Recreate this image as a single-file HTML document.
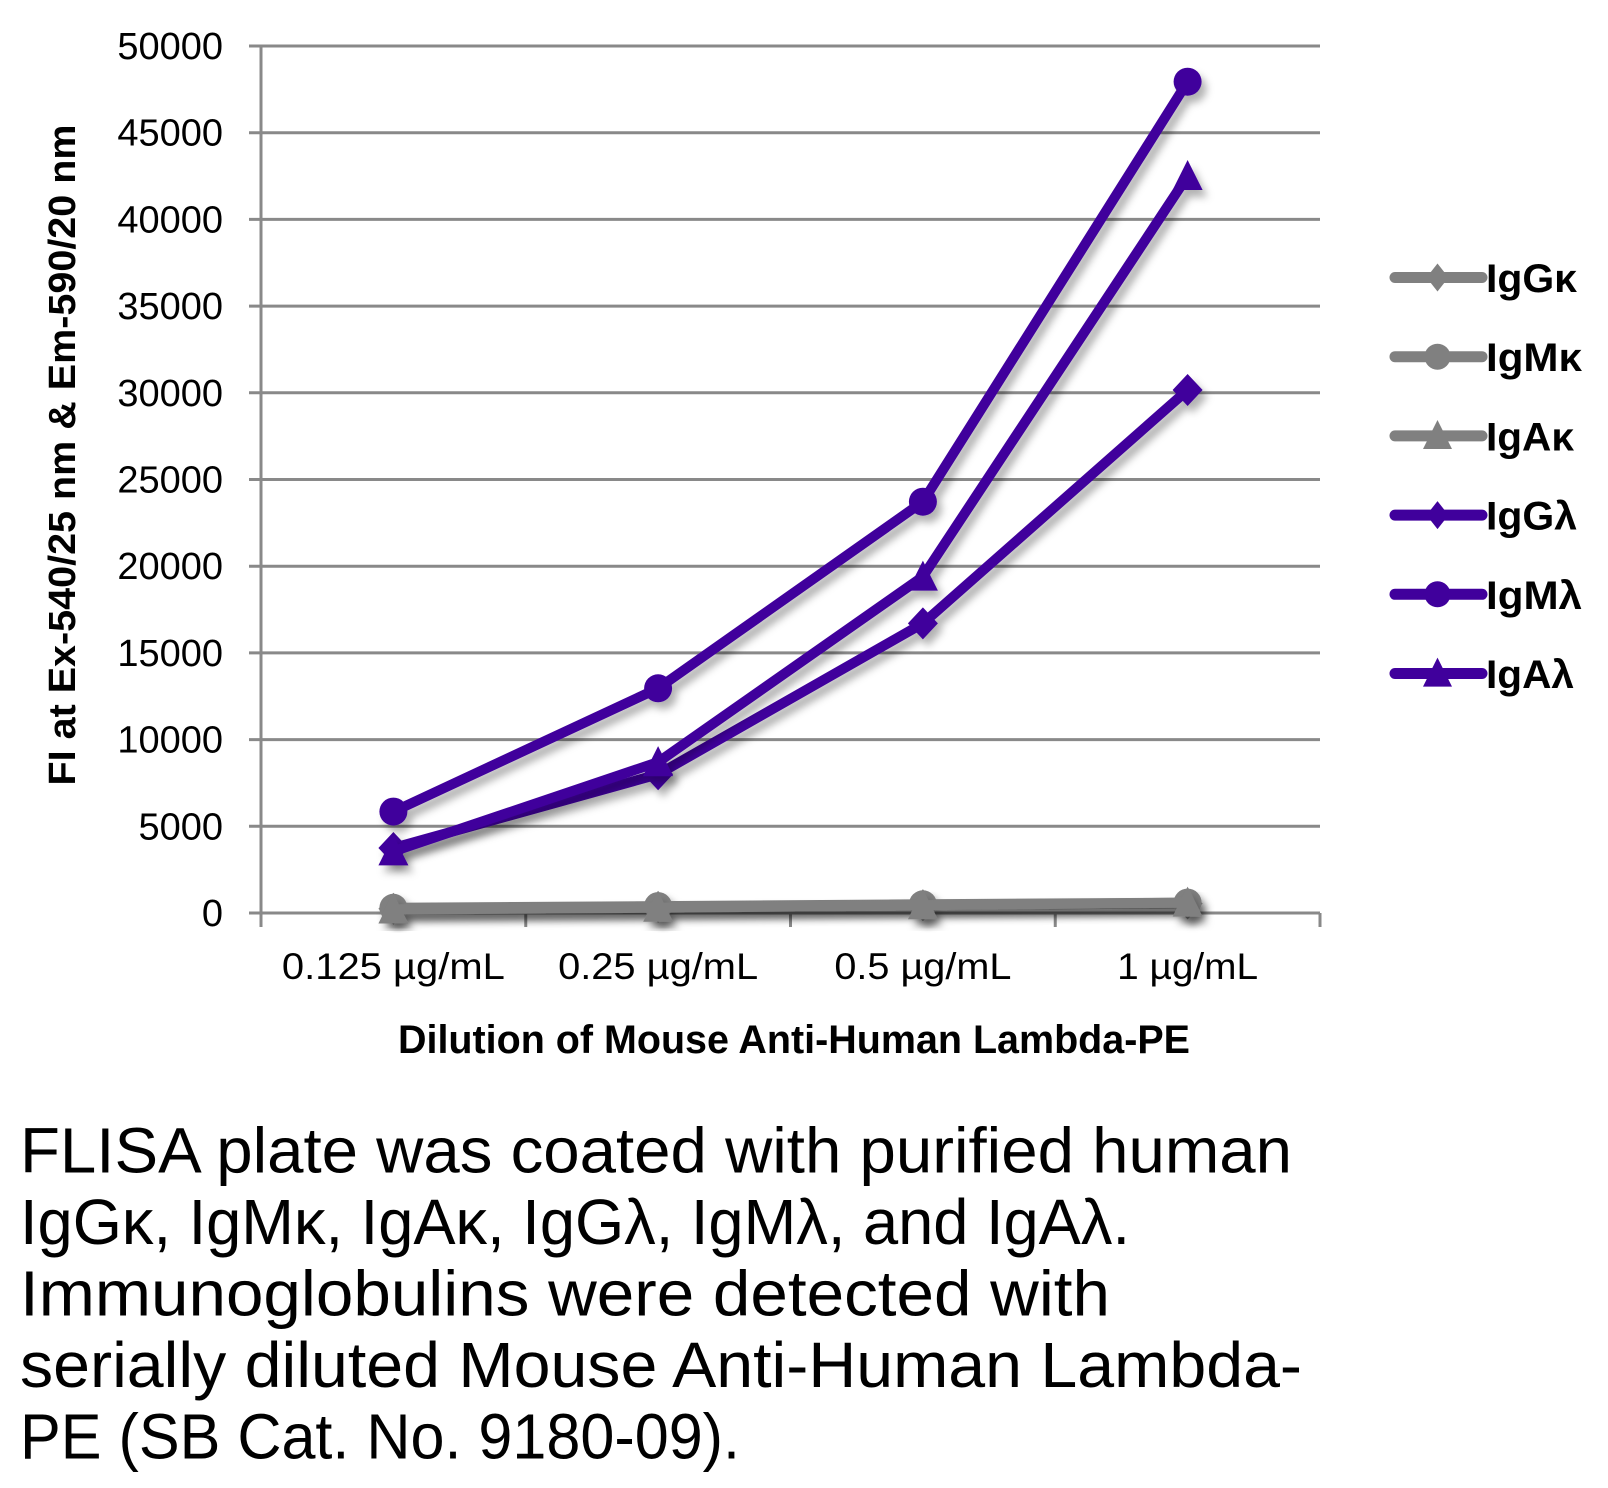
<!DOCTYPE html>
<html>
<head>
<meta charset="utf-8">
<style>
html,body{margin:0;padding:0;background:#fff;}
svg{display:block;}
text{font-family:"Liberation Sans",sans-serif;fill:#000;}
</style>
</head>
<body>
<svg width="1608" height="1488" viewBox="0 0 1608 1488" xmlns="http://www.w3.org/2000/svg">
<defs>
<filter id="sh" x="-10%" y="-10%" width="130%" height="130%">
<feGaussianBlur in="SourceAlpha" stdDeviation="4"/>
<feOffset dx="5" dy="7" result="o"/>
<feFlood flood-color="#000" flood-opacity="0.3"/>
<feComposite in2="o" operator="in"/>
<feMerge><feMergeNode/><feMergeNode in="SourceGraphic"/></feMerge>
</filter>
</defs>
<rect width="1608" height="1488" fill="#fff"/>

<!-- gridlines -->
<g stroke="#898989" stroke-width="3">
<line x1="249" y1="913" x2="1320" y2="913"/>
<line x1="249" y1="826.3" x2="1320" y2="826.3"/>
<line x1="249" y1="739.6" x2="1320" y2="739.6"/>
<line x1="249" y1="652.9" x2="1320" y2="652.9"/>
<line x1="249" y1="566.2" x2="1320" y2="566.2"/>
<line x1="249" y1="479.5" x2="1320" y2="479.5"/>
<line x1="249" y1="392.8" x2="1320" y2="392.8"/>
<line x1="249" y1="306.1" x2="1320" y2="306.1"/>
<line x1="249" y1="219.4" x2="1320" y2="219.4"/>
<line x1="249" y1="132.7" x2="1320" y2="132.7"/>
<line x1="249" y1="46" x2="1320" y2="46"/>
<line x1="261" y1="46" x2="261" y2="927"/>
<line x1="525.75" y1="913" x2="525.75" y2="927"/>
<line x1="790.5" y1="913" x2="790.5" y2="927"/>
<line x1="1055.25" y1="913" x2="1055.25" y2="927"/>
<line x1="1320" y1="913" x2="1320" y2="927"/>
</g>

<!-- y tick labels -->
<g font-size="38" text-anchor="end">
<text x="223" y="926">0</text>
<text x="223" y="839.3">5000</text>
<text x="223" y="752.6">10000</text>
<text x="223" y="665.9">15000</text>
<text x="223" y="579.2">20000</text>
<text x="223" y="492.5">25000</text>
<text x="223" y="405.8">30000</text>
<text x="223" y="319.1">35000</text>
<text x="223" y="232.4">40000</text>
<text x="223" y="145.7">45000</text>
<text x="223" y="59">50000</text>
</g>

<!-- x tick labels -->
<g font-size="37" text-anchor="middle">
<text x="393.4" y="979" textLength="223" lengthAdjust="spacingAndGlyphs">0.125 µg/mL</text>
<text x="658.1" y="979" textLength="200" lengthAdjust="spacingAndGlyphs">0.25 µg/mL</text>
<text x="922.9" y="979" textLength="177" lengthAdjust="spacingAndGlyphs">0.5 µg/mL</text>
<text x="1187.6" y="979" textLength="141" lengthAdjust="spacingAndGlyphs">1 µg/mL</text>
</g>

<!-- axis titles -->
<text x="398" y="1053" font-size="40" font-weight="bold" textLength="792" lengthAdjust="spacingAndGlyphs">Dilution of Mouse Anti-Human Lambda-PE</text>
<text transform="translate(75,455) rotate(-90)" text-anchor="middle" font-size="38" font-weight="bold" textLength="661" lengthAdjust="spacingAndGlyphs">FI at Ex-540/25 nm &amp; Em-590/20 nm</text>

<!-- gray series -->
<g filter="url(#sh)" fill="#808080" stroke="none">
<polyline points="393.4,908.7 658.1,906.9 922.9,905.2 1187.6,903.5" fill="none" stroke="#808080" stroke-width="10" stroke-linejoin="round" stroke-linecap="round"/>
<path d="M393.4,892.7 L408.4,908.7 L393.4,924.7 L378.4,908.7Z M658.1,890.9 L673.1,906.9 L658.1,922.9 L643.1,906.9Z M922.9,889.2 L937.9,905.2 L922.9,921.2 L907.9,905.2Z M1187.6,887.5 L1202.6,903.5 L1187.6,919.5 L1172.6,903.5Z"/>
</g>
<g filter="url(#sh)" fill="#808080" stroke="none">
<polyline points="393.4,907.8 658.1,906.1 922.9,904.3 1187.6,902.6" fill="none" stroke="#808080" stroke-width="10" stroke-linejoin="round" stroke-linecap="round"/>
<circle cx="393.4" cy="907.8" r="14"/>
<circle cx="658.1" cy="906.1" r="14"/>
<circle cx="922.9" cy="904.3" r="14"/>
<circle cx="1187.6" cy="902.6" r="14"/>
</g>
<g filter="url(#sh)" fill="#808080" stroke="none">
<polyline points="393.4,909.5 658.1,907.8 922.9,905.2 1187.6,902.6" fill="none" stroke="#808080" stroke-width="10" stroke-linejoin="round" stroke-linecap="round"/>
<path d="M393.4,893.5 L408.4,923.5 L378.4,923.5Z M658.1,891.8 L673.1,921.8 L643.1,921.8Z M922.9,889.2 L937.9,919.2 L907.9,919.2Z M1187.6,886.6 L1202.6,916.6 L1172.6,916.6Z"/>
</g>

<!-- purple series -->
<g filter="url(#sh)" fill="#40009c" stroke="none">
<polyline points="393.4,848 658.1,774.3 922.9,623.4 1187.6,390" fill="none" stroke="#40009c" stroke-width="10" stroke-linejoin="round" stroke-linecap="round"/>
<path d="M393.4,832 L408.4,848 L393.4,864 L378.4,848Z M658.1,758.3 L673.1,774.3 L658.1,790.3 L643.1,774.3Z M922.9,607.4 L937.9,623.4 L922.9,639.4 L907.9,623.4Z M1187.6,374 L1202.6,390 L1187.6,406 L1172.6,390Z"/>
</g>
<g filter="url(#sh)" fill="#40009c" stroke="none">
<polyline points="393.4,811.6 658.1,688.3 922.9,501.7 1187.6,81.7" fill="none" stroke="#40009c" stroke-width="10" stroke-linejoin="round" stroke-linecap="round"/>
<circle cx="393.4" cy="811.6" r="14"/>
<circle cx="658.1" cy="688.3" r="14"/>
<circle cx="922.9" cy="501.7" r="14"/>
<circle cx="1187.6" cy="81.7" r="14"/>
</g>
<g filter="url(#sh)" fill="#40009c" stroke="none">
<polyline points="393.4,851.4 658.1,762.1 922.9,576.6 1187.6,176" fill="none" stroke="#40009c" stroke-width="10" stroke-linejoin="round" stroke-linecap="round"/>
<path d="M393.4,835.4 L408.4,865.4 L378.4,865.4Z M658.1,746.1 L673.1,776.1 L643.1,776.1Z M922.9,560.6 L937.9,590.6 L907.9,590.6Z M1187.6,160 L1202.6,190 L1172.6,190Z"/>
</g>

<!-- legend -->
<g stroke-width="11" stroke-linecap="round">
<line x1="1395" y1="277.5" x2="1482" y2="277.5" stroke="#808080"/>
<line x1="1395" y1="356.7" x2="1482" y2="356.7" stroke="#808080"/>
<line x1="1395" y1="435.9" x2="1482" y2="435.9" stroke="#808080"/>
<line x1="1395" y1="515.1" x2="1482" y2="515.1" stroke="#40009c"/>
<line x1="1395" y1="594.3" x2="1482" y2="594.3" stroke="#40009c"/>
<line x1="1395" y1="673.5" x2="1482" y2="673.5" stroke="#40009c"/>
</g>
<path fill="#808080" d="M1437.5,263.5 L1448.5,277.5 L1437.5,291.5 L1426.5,277.5Z"/>
<circle fill="#808080" cx="1437.5" cy="356.7" r="13"/>
<path fill="#808080" d="M1437.5,420 L1452,449 L1423,449Z"/>
<path fill="#40009c" d="M1437.5,501.1 L1448.5,515.1 L1437.5,529.1 L1426.5,515.1Z"/>
<circle fill="#40009c" cx="1437.5" cy="594.3" r="13"/>
<path fill="#40009c" d="M1437.5,657.6 L1452,686.6 L1423,686.6Z"/>
<g font-size="40" font-weight="bold">
<text x="1486" y="292" textLength="91" lengthAdjust="spacingAndGlyphs">IgGκ</text>
<text x="1486" y="371.2" textLength="96" lengthAdjust="spacingAndGlyphs">IgMκ</text>
<text x="1486" y="450.4" textLength="88" lengthAdjust="spacingAndGlyphs">IgAκ</text>
<text x="1486" y="529.6" textLength="91" lengthAdjust="spacingAndGlyphs">IgGλ</text>
<text x="1486" y="608.8" textLength="96" lengthAdjust="spacingAndGlyphs">IgMλ</text>
<text x="1486" y="688" textLength="88" lengthAdjust="spacingAndGlyphs">IgAλ</text>
</g>

<!-- caption -->
<g font-size="64">
<text x="20" y="1172.5" textLength="1272" lengthAdjust="spacingAndGlyphs">FLISA plate was coated with purified human</text>
<text x="20" y="1244" textLength="1110" lengthAdjust="spacingAndGlyphs">IgGκ, IgMκ, IgAκ, IgGλ, IgMλ, and IgAλ.</text>
<text x="20" y="1315.5" textLength="1090" lengthAdjust="spacingAndGlyphs">Immunoglobulins were detected with</text>
<text x="20" y="1387" textLength="1282" lengthAdjust="spacingAndGlyphs">serially diluted Mouse Anti-Human Lambda-</text>
<text x="20" y="1458.5" textLength="720" lengthAdjust="spacingAndGlyphs">PE (SB Cat. No. 9180-09).</text>
</g>
</svg>
</body>
</html>
